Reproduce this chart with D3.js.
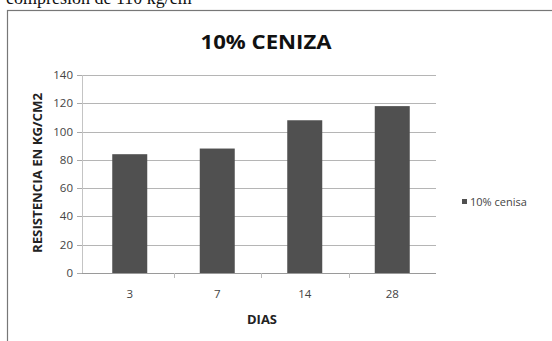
<!DOCTYPE html>
<html>
<head>
<meta charset="utf-8">
<script src="https://cdn.jsdelivr.net/npm/d3@7"></script>
<style>
  html, body { margin: 0; padding: 0; background: #fff; }
  svg { display: block; }
</style>
</head>
<body>
<div id="chart"></div>
<script>
// Compressive strength at each curing age, 10% ash mix
const categories = ["3", "7", "14", "28"];
const values = [84, 88, 108, 118];
const yTicks = [0, 20, 40, 60, 80, 100, 120, 140];
const seriesName = "10% cenisa";
const title = "10% CENIZA";
const xTitle = "DIAS";
const yTitle = "RESISTENCIA EN KG/CM2";

const W = 552, H = 341;
const svg = d3.select("#chart").append("svg").attr("width", W).attr("height", H);

// Line of body text running above the chart box
svg.append("text")
  .attr("x", 6).attr("y", 4)
  .attr("font-family", "'Liberation Serif', 'DejaVu Serif', serif")
  .attr("font-size", 18).attr("fill", "#111")
  .text("compresión de 110 kg/cm");

// Chart box
svg.append("rect")
  .attr("x", 7.5).attr("y", 10.5).attr("width", W).attr("height", H)
  .attr("fill", "#fff").attr("stroke", "#777").attr("stroke-width", 1.2);

const plot = { left: 82, right: 436, top: 75, bottom: 273 };

const x = d3.scaleBand().domain(categories).range([86, plot.right]).paddingInner(0.6).paddingOuter(0.3);
const xBoundary = d3.scaleBand().domain(categories).range([86, plot.right]);
const y = d3.scaleLinear().domain([0, 140]).range([plot.bottom, plot.top]);

// Gridlines
svg.append("g").selectAll("line").data(yTicks).join("line")
  .attr("x1", plot.left).attr("x2", plot.right)
  .attr("y1", d => Math.round(y(d)) + 0.5).attr("y2", d => Math.round(y(d)) + 0.5)
  .attr("stroke", d => d === 0 ? "#9a9a9a" : "#b5b5b5").attr("stroke-width", 1);

// Y axis line and ticks
svg.append("line")
  .attr("x1", plot.left + 0.5).attr("x2", plot.left + 0.5)
  .attr("y1", plot.top).attr("y2", plot.bottom)
  .attr("stroke", "#c4c4c4");
svg.append("g").selectAll("line").data(yTicks).join("line")
  .attr("x1", plot.left - 5).attr("x2", plot.left)
  .attr("y1", d => Math.round(y(d)) + 0.5).attr("y2", d => Math.round(y(d)) + 0.5)
  .attr("stroke", "#aaa");

// X axis category boundary ticks
svg.append("g").selectAll("line").data(categories.slice(1)).join("line")
  .attr("x1", d => Math.round(xBoundary(d)) + 0.5).attr("x2", d => Math.round(xBoundary(d)) + 0.5)
  .attr("y1", plot.bottom).attr("y2", plot.bottom + 5)
  .attr("stroke", "#bbb");

// Y tick labels
svg.append("g").selectAll("text").data(yTicks).join("text")
  .attr("x", 73).attr("y", d => y(d) + 4)
  .attr("text-anchor", "end")
  .attr("font-family", "'Open Sans', 'Liberation Sans', sans-serif")
  .attr("font-size", 11.5).attr("fill", "#444")
  .text(d => d);

// Bars
svg.append("g").selectAll("rect").data(values).join("rect")
  .attr("x", (d, i) => x(categories[i]))
  .attr("y", d => y(d))
  .attr("width", x.bandwidth())
  .attr("height", d => plot.bottom - y(d))
  .attr("fill", "#505050");

// X tick labels
svg.append("g").selectAll("text").data(categories).join("text")
  .attr("x", d => x(d) + x.bandwidth() / 2).attr("y", 298)
  .attr("text-anchor", "middle")
  .attr("font-family", "'Open Sans', 'Liberation Sans', sans-serif")
  .attr("font-size", 11.5).attr("fill", "#444")
  .text(d => d);

// Title
svg.append("text")
  .attr("x", 266).attr("y", 49)
  .attr("text-anchor", "middle")
  .attr("font-family", "'Open Sans', 'Liberation Sans', sans-serif")
  .attr("font-weight", "bold").attr("font-size", 20).attr("fill", "#111")
  .attr("textLength", 131).attr("lengthAdjust", "spacingAndGlyphs")
  .text(title);

// Axis titles
svg.append("text")
  .attr("x", 262).attr("y", 324)
  .attr("text-anchor", "middle")
  .attr("font-family", "'Open Sans', 'Liberation Sans', sans-serif")
  .attr("font-weight", "bold").attr("font-size", 11.5).attr("fill", "#222")
  .attr("textLength", 30).attr("lengthAdjust", "spacingAndGlyphs")
  .text(xTitle);

svg.append("text")
  .attr("transform", "translate(42,173) rotate(-90)")
  .attr("text-anchor", "middle")
  .attr("font-family", "'Open Sans', 'Liberation Sans', sans-serif")
  .attr("font-weight", "bold").attr("font-size", 12).attr("fill", "#222")
  .attr("textLength", 160).attr("lengthAdjust", "spacingAndGlyphs")
  .text(yTitle);

// Legend
const legend = svg.append("g").attr("transform", "translate(462,202)");
legend.append("rect").attr("x", 0).attr("y", -3).attr("width", 5).attr("height", 5).attr("fill", "#505050");
legend.append("text")
  .attr("x", 8).attr("y", 4)
  .attr("font-family", "'Open Sans', 'Liberation Sans', sans-serif")
  .attr("font-size", 11).attr("fill", "#444")
  .text(seriesName);
</script>
</body>
</html>
